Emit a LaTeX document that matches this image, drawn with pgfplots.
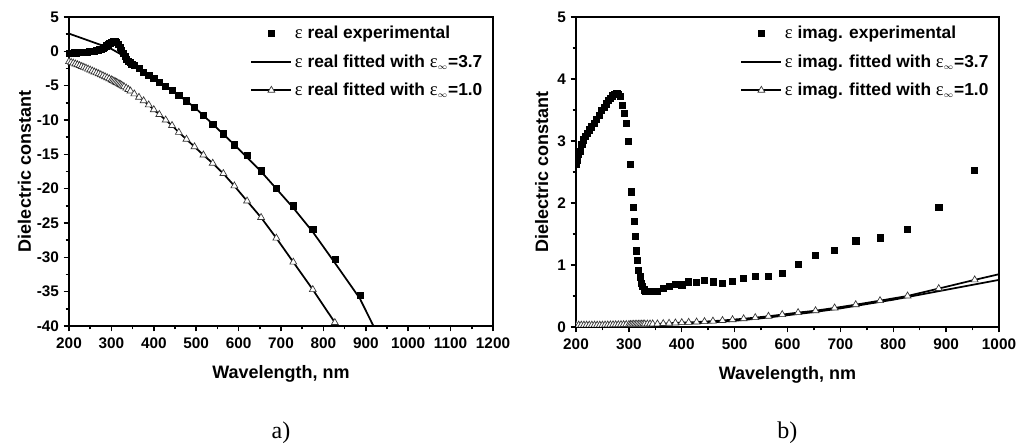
\documentclass[border=0pt]{standalone}
\usepackage{fontspec}
\setmainfont{Liberation Sans}
\newfontfamily\serif{Liberation Serif}
\usepackage{pgfplots}
\pgfplotsset{compat=1.18}

\pgfplotsset{
 mystyle/.style={
  scale only axis,
  axis line style={line width=1.4pt},
  tick style={line width=1.1pt, black},
  tick align=outside,
  xtick pos=left, ytick pos=left,
  major tick length=4pt, minor tick length=2.5pt,
  minor x tick num=1, minor y tick num=1,
  scaled ticks=false,
  /pgf/number format/assume math mode=true,
  /pgf/number format/set thousands separator={},
  ticklabel style={font=\bfseries\fontsize{11.5}{13}\selectfont},
  xticklabel style={yshift=-1pt},
  label style={font=\bfseries\fontsize{13.5}{15}\selectfont},
  xlabel style={yshift=-6pt},
  xlabel={Wavelength, nm}, ylabel={Dielectric constant},
  legend style={draw=none, fill=none, at={(0.985,0.985)}, anchor=north east,
    font=\bfseries\fontsize{13}{15}\selectfont, row sep=6.5pt,
    cells={anchor=west}, inner sep=1pt},
  legend image code/.code={\draw[mark repeat=2,mark phase=2,#1] plot coordinates {(0pt,0pt)(15pt,0pt)(30pt,0pt)};},
  expstyle/.style={only marks, mark=square*, mark size=2.3pt, black},
  fitstyle/.style={black, line width=1.3pt, mark=none},
  tristyle/.style={black, line width=1.3pt, mark=triangle*, mark size=3pt, mark options={fill=white, line width=0.5pt, draw=black!80}},
 }
}
\newcommand{\eps}{{\serif\mdseries\fontsize{14}{15}\selectfont ε}}
\newcommand{\einf}{{\serif\mdseries\fontsize{14}{15}\selectfont ε}$_{\scriptscriptstyle\infty}$}

\begin{document}
\begin{tikzpicture}
\useasboundingbox (0,0) rectangle (762pt,336pt);

% ---------------- left panel a) ----------------
\begin{axis}[mystyle,
  at={(51.75pt,323.25pt)}, anchor=north west,
  width=318pt, height=231.75pt,
  xmin=200, xmax=1200, ymin=-40, ymax=5,
  xtick={200,300,...,1200}, ytick={-40,-35,...,5},
  ylabel style={yshift=-2.5pt},
]
\addplot[expstyle] coordinates {
(200,-0.25)(204,-0.24)(208,-0.23)(212,-0.22)(216,-0.21)(220,-0.2)(224,-0.18)(228,-0.16)
(232,-0.14)(236,-0.12)(240,-0.1)(244,-0.08)(248,-0.05)(252,-0.02)(256,0.02)(260,0.06)
(264,0.11)(268,0.17)(272,0.25)(276,0.35)(280,0.47)(284,0.62)(288,0.8)(292,1.0)(296,1.2)
(300,1.36)(304,1.45)(308,1.45)(312,1.3)(316,1.0)(320,0.6)(324,0.15)(328,-0.3)(332,-0.75)
(336,-1.1)(340,-1.4)(344,-1.65)(348,-1.85)
(354,-2.05)(365,-2.5)(376,-3.0)(388,-3.45)(400,-3.95)(413,-4.45)(428,-5.05)(443,-5.7)
(459,-6.4)(477,-7.2)(496,-8.15)(517,-9.3)(539,-10.6)(564,-12.0)(590,-13.6)(620,-15.2)
(653,-17.4)(689,-19.9)(729,-22.5)(775,-25.9)(827,-30.3)(886,-35.5)
};
\addlegendentry{\eps\ real experimental}
\addplot[fitstyle] coordinates {
(200,2.58)(225,2.03)(250,1.48)(275,0.93)(300,0.35)(320,-0.35)(340,-1.35)(354,-2.05)
(376,-3.0)(400,-3.95)(428,-5.05)(459,-6.4)(496,-8.15)(539,-10.6)(590,-13.6)(653,-17.5)
(729,-22.8)(775,-26.3)(827,-30.8)(886,-36.0)(918,-40.0)(930,-41.6)
};
\addlegendentry{\eps\ real fitted with \einf=3.7}
\addplot[tristyle] coordinates {
(200,-1.50)(205,-1.61)(210,-1.72)(215,-1.84)(220,-1.95)(225,-2.07)(230,-2.20)(235,-2.32)
(240,-2.45)(245,-2.59)(250,-2.72)(255,-2.86)(260,-3.00)(265,-3.14)(270,-3.27)(275,-3.41)
(280,-3.55)(285,-3.70)(290,-3.85)(295,-4.00)(300,-4.15)(303,-4.25)(306,-4.34)(309,-4.44)
(312,-4.54)(315,-4.63)(318,-4.73)(321,-4.83)(324,-4.94)(327,-5.05)(330,-5.17)(335,-5.36)
(340,-5.55)(345,-5.78)
(354,-6.2)(365,-6.7)(376,-7.2)(388,-7.8)(400,-8.5)(413,-9.2)(428,-10.0)(443,-10.8)
(459,-11.8)(477,-12.8)(496,-13.9)(517,-15.1)(539,-16.3)(564,-17.8)(590,-19.6)(620,-21.8)
(653,-24.2)(689,-27.2)(729,-30.7)(775,-34.7)(827,-39.5)
};
\addlegendentry{\eps\ real fitted with \einf=1.0}
\end{axis}

% ---------------- right panel b) ----------------
\begin{axis}[mystyle,
  at={(432pt,323.25pt)}, anchor=north west,
  width=317.25pt, height=232.5pt,
  xmin=200, xmax=1000, ymin=0, ymax=5,
  xtick={200,300,...,1000}, ytick={0,1,...,5},
  clip marker paths=true,
]
\addplot[expstyle] coordinates {
(200,2.62)(202.5,2.69)(205,2.78)(207.5,2.84)(211,2.95)(214,3.02)(217,3.07)(221,3.12)
(225,3.18)(229.6,3.23)(234,3.29)(239,3.35)(244,3.42)(248.5,3.5)(253,3.55)(257,3.6)
(261,3.65)(265,3.69)(269,3.73)(273,3.76)(277,3.77)(280,3.76)(283,3.72)(287.5,3.58)
(291,3.45)(295.8,3.29)(299,3.0)(302,2.63)(305,2.18)(308,1.93)(310,1.70)(312,1.46)
(314,1.23)(316,1.07)(318,0.92)(321,0.81)(324,0.70)(326,0.65)(328.5,0.6)(331,0.58)
(334.8,0.57)(338,0.57)(342,0.57)(346,0.57)(350,0.58)
(354,0.58)(365,0.62)(376,0.66)(388,0.69)(400,0.68)(413,0.73)(428,0.72)(443,0.75)
(459,0.73)(477,0.71)(496,0.74)(517,0.79)(539,0.82)(564,0.82)(590,0.87)(620,1.01)
(653,1.15)(689,1.24)(729,1.39)(775,1.44)(827,1.58)(886,1.93)(954,2.53)
};
\addlegendentry{\eps\ imag. experimental}
\addplot[fitstyle] coordinates {
(200,0.02)(300,0.03)(400,0.05)(450,0.07)(500,0.1)(550,0.14)(600,0.19)(650,0.24)
(700,0.3)(750,0.37)(800,0.44)(850,0.52)(900,0.6)(950,0.68)(1000,0.76)
};
\addlegendentry{\eps\ imag. fitted with \einf=3.7}
\addplot[tristyle] coordinates {
(200,0.03)(205,0.03)(210,0.03)(215,0.03)(220,0.03)(225,0.03)(230,0.03)(235,0.03)
(240,0.03)(245,0.03)(250,0.03)(255,0.032)(260,0.033)(265,0.034)(270,0.035)(275,0.036)
(280,0.037)(285,0.038)(290,0.039)(295,0.04)(300,0.04)(303,0.041)(306,0.042)(309,0.043)
(312,0.043)(315,0.044)(318,0.045)(321,0.045)(324,0.046)(327,0.047)(330,0.047)(335,0.048)
(340,0.049)(345,0.05)
(354,0.05)(365,0.055)(376,0.06)(388,0.065)(400,0.07)(413,0.075)(428,0.08)(443,0.087)
(459,0.095)(477,0.105)(496,0.118)(517,0.133)(539,0.151)(564,0.173)(590,0.2)(620,0.232)
(653,0.263)(689,0.307)(729,0.36)(775,0.425)(827,0.5)(886,0.62)(954,0.76)(1012,0.875)
};
\addlegendentry{\eps\ imag. fitted with \einf=1.0}
\end{axis}

\node[font=\serif\fontsize{18}{20}\selectfont] at (210.75pt,11.25pt) {a)};
\node[font=\serif\fontsize{18}{20}\selectfont] at (590.6pt,11.25pt) {b)};
\end{tikzpicture}
\end{document}
